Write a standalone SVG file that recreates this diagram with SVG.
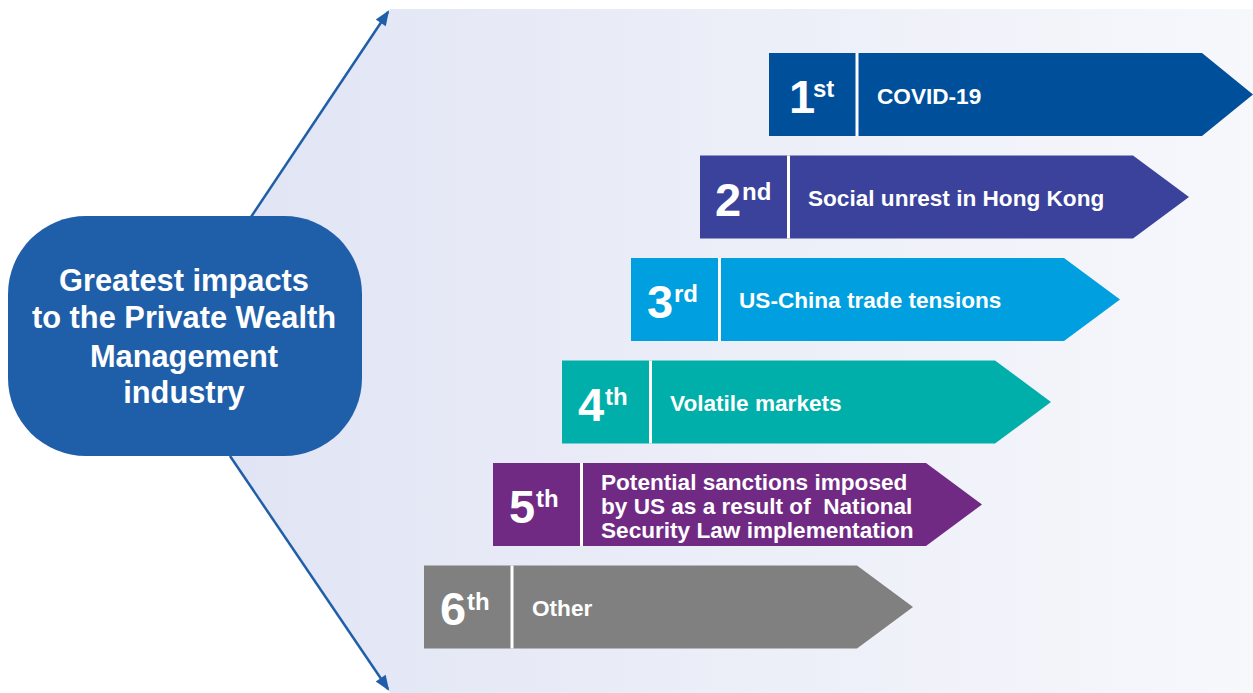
<svg xmlns="http://www.w3.org/2000/svg" width="1253" height="693" viewBox="0 0 1253 693">
<style>
.num{font-family:"Liberation Sans",Arial,sans-serif;font-weight:bold;fill:#fff;font-size:47px}
.sup{font-family:"Liberation Sans",Arial,sans-serif;font-weight:bold;fill:#fff;font-size:24px}
.lbl{font-family:"Liberation Sans",Arial,sans-serif;font-weight:bold;fill:#fff;font-size:22.6px}
.hub{font-family:"Liberation Sans",Arial,sans-serif;font-weight:bold;fill:#fff;font-size:30.8px}
.div{stroke:#fff;stroke-width:3}
.conn{stroke:#1f5ea8;stroke-width:2.5;fill:none;marker-end:url(#ah)}
</style>
<defs>
<linearGradient id="bg" x1="0" y1="0" x2="1" y2="0">
<stop offset="0" stop-color="#e1e4f4"/>
<stop offset="1" stop-color="#f7f8fc"/>
</linearGradient>
<marker id="ah" viewBox="-20 -10 24 20" refX="0" refY="0" markerWidth="24" markerHeight="20" markerUnits="userSpaceOnUse" orient="auto" overflow="visible">
<path d="M2,0 L-13,-6 L-13,6 Z" fill="#1f5ea8"/>
</marker>
</defs>
<rect width="1253" height="693" fill="#fff"/>
<polygon points="390,9 1253,9 1253,693 390,693 230,456 251,216" fill="url(#bg)"/>
<g id="connectors">
<line class="conn" x1="251" y1="217" x2="388" y2="12"/>
<line class="conn" x1="230" y1="456" x2="388" y2="689"/>
</g>
<g id="hub">
<rect x="8" y="216" width="354" height="240" rx="78" ry="78" fill="#1f5ea8"/>
<text class="hub" text-anchor="middle" x="184" y="291">Greatest impacts</text>
<text class="hub" text-anchor="middle" x="184" y="328">to the Private Wealth</text>
<text class="hub" text-anchor="middle" x="184" y="367">Management</text>
<text class="hub" text-anchor="middle" x="184" y="403">industry</text>
</g>
<g id="rank1">
<polygon points="769,53 1202,53 1253,94.5 1202,136 769,136" fill="#004f9a"/>
<line class="div" x1="857" y1="53" x2="857" y2="136"/>
<text class="num" x="789" y="113">1</text><text class="sup" x="813" y="97">st</text>
<text class="lbl" x="877" y="104">COVID-19</text>
</g>
<g id="rank2">
<polygon points="700,155.5 1133,155.5 1189,197 1133,238.5 700,238.5" fill="#3a429b"/>
<line class="div" x1="788.5" y1="155.5" x2="788.5" y2="238.5"/>
<text class="num" x="715" y="216">2</text><text class="sup" x="742" y="200">nd</text>
<text class="lbl" x="808" y="206">Social unrest in Hong Kong</text>
</g>
<g id="rank3">
<polygon points="631,258 1064,258 1120,299.5 1064,341 631,341" fill="#00a0e0"/>
<line class="div" x1="719.5" y1="258" x2="719.5" y2="341"/>
<text class="num" x="647" y="318">3</text><text class="sup" x="674" y="302">rd</text>
<text class="lbl" x="739" y="308">US-China trade tensions</text>
</g>
<g id="rank4">
<polygon points="562,360.5 995,360.5 1051,402 995,443.5 562,443.5" fill="#00afa9"/>
<line class="div" x1="650.5" y1="360.5" x2="650.5" y2="443.5"/>
<text class="num" x="578" y="421">4</text><text class="sup" x="605" y="405">th</text>
<text class="lbl" x="670" y="411">Volatile markets</text>
</g>
<g id="rank5">
<polygon points="493,463 926,463 982,504.5 926,546 493,546" fill="#702a84"/>
<line class="div" x1="581.5" y1="463" x2="581.5" y2="546"/>
<text class="num" x="509" y="523">5</text><text class="sup" x="536" y="507">th</text>
<text class="lbl" x="601" y="490">Potential sanctions imposed</text>
<text class="lbl" x="601" y="514" xml:space="preserve">by US as a result of  National</text>
<text class="lbl" x="601" y="537.5">Security Law implementation</text>
</g>
<g id="rank6">
<polygon points="424,565.5 857,565.5 913,607 857,648.5 424,648.5" fill="#808080"/>
<line class="div" x1="512" y1="565.5" x2="512" y2="648.5"/>
<text class="num" x="440" y="625">6</text><text class="sup" x="467" y="610">th</text>
<text class="lbl" x="532" y="616">Other</text>
</g>
</svg>
